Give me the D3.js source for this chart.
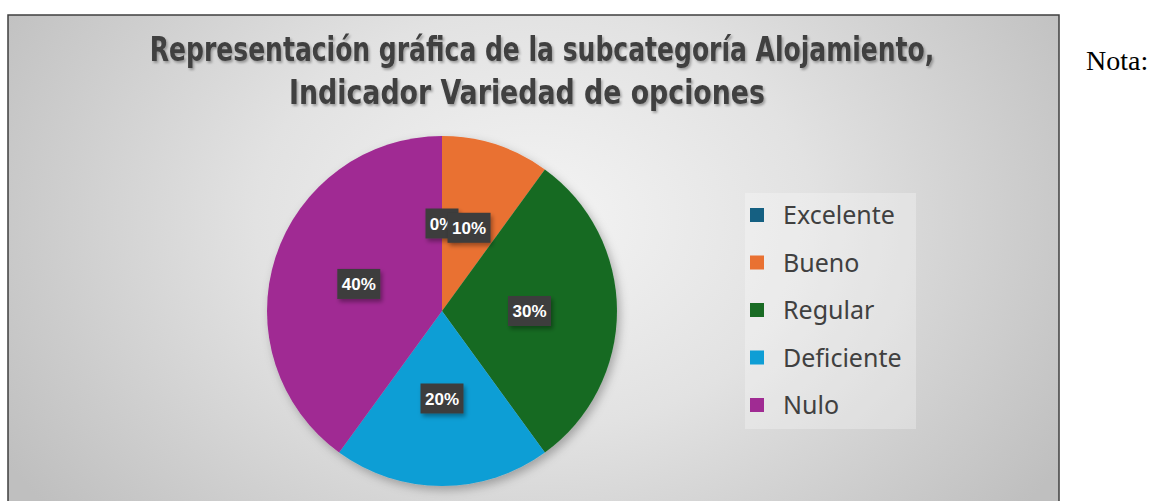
<!DOCTYPE html>
<html>
<head>
<meta charset="utf-8">
<script src="https://cdn.jsdelivr.net/npm/d3@7"></script>
<style>
  html, body { margin: 0; padding: 0; background: #ffffff; }
  svg { display: block; }
</style>
</head>
<body>
<svg id="chart" width="1152" height="501"></svg>
<script>
// Survey answers for "Variedad de opciones" (percent of respondents)
const categories = ["Excelente", "Bueno", "Regular", "Deficiente", "Nulo"];
const values = [0, 10, 30, 20, 40];
const colors = ["#156082", "#E97132", "#196B24", "#0F9ED5", "#A02B93"];
const titleLines = [
  "Representación gráfica de la subcategoría Alojamiento,",
  "Indicador  Variedad de opciones"
];
const noteText = "Nota:";

const svg = d3.select("#chart");

const defs = svg.append("defs");

// Soft gray backdrop, lighter in the middle
const bg = defs.append("radialGradient")
  .attr("id", "bgGrad")
  .attr("gradientUnits", "userSpaceOnUse")
  .attr("cx", 535).attr("cy", 220).attr("r", 620)
  .attr("gradientTransform", "translate(535,220) scale(1,0.75) translate(-535,-220)");
bg.append("stop").attr("offset", "0%").attr("stop-color", "#f4f4f4");
bg.append("stop").attr("offset", "45%").attr("stop-color", "#e2e2e2");
bg.append("stop").attr("offset", "100%").attr("stop-color", "#bfbfbf");

const pieShadow = defs.append("filter").attr("id", "pieShadow")
  .attr("x", "-20%").attr("y", "-20%").attr("width", "140%").attr("height", "140%");
pieShadow.append("feDropShadow")
  .attr("dx", 3).attr("dy", 4).attr("stdDeviation", 5)
  .attr("flood-color", "#000").attr("flood-opacity", 0.28);

const textShadow = defs.append("filter").attr("id", "textShadow")
  .attr("x", "-5%").attr("y", "-20%").attr("width", "110%").attr("height", "150%");
textShadow.append("feDropShadow")
  .attr("dx", 1.5).attr("dy", 2).attr("stdDeviation", 1.2)
  .attr("flood-color", "#000").attr("flood-opacity", 0.3);

const boxShadow = defs.append("filter").attr("id", "boxShadow")
  .attr("x", "-30%").attr("y", "-30%").attr("width", "160%").attr("height", "160%");
boxShadow.append("feDropShadow")
  .attr("dx", 2).attr("dy", 3).attr("stdDeviation", 2)
  .attr("flood-color", "#000").attr("flood-opacity", 0.35);

// Chart area with its frame
const frame = { x: 8, y: 15, w: 1051, h: 500 };
svg.append("rect")
  .attr("x", frame.x).attr("y", frame.y)
  .attr("width", frame.w).attr("height", frame.h)
  .attr("fill", "url(#bgGrad)")
  .attr("stroke", "#3f3f3f").attr("stroke-width", 1.5);

// Title: bold face squeezed horizontally to a narrow look
const titleG = svg.append("g").attr("filter", "url(#textShadow)");
const titleSpec = [
  { x: 542, y: 61, len: 785 },
  { x: 527, y: 104, len: 476 }
];
titleLines.forEach((t, i) => {
  const holder = titleG.append("g");
  const txt = holder.append("text")
    .attr("x", 0).attr("y", 0)
    .attr("text-anchor", "middle")
    .attr("font-family", "'Liberation Sans Narrow', 'DejaVu Sans Condensed', 'Roboto', sans-serif")
    .attr("font-stretch", "condensed")
    .attr("font-weight", "bold")
    .attr("font-size", 34)
    .attr("fill", "#404040")
    .text(t);
  const natural = txt.node().getComputedTextLength();
  const sx = titleSpec[i].len / natural;
  holder.attr("transform", `translate(${titleSpec[i].x},${titleSpec[i].y}) scale(${sx},1)`);
});

// Pie
const cx = 442, cy = 311, radius = 175;
const data = categories.map((c, i) => ({ name: c, value: values[i], color: colors[i] }));

const pie = d3.pie().value(d => d.value).sort(null);
const arcs = pie(data);
const arc = d3.arc().innerRadius(0).outerRadius(radius);
const labelArc = d3.arc().innerRadius(radius * 0.5).outerRadius(radius * 0.5);

const pieG = svg.append("g").attr("transform", `translate(${cx},${cy})`);
pieG.append("g").attr("filter", "url(#pieShadow)")
  .selectAll("path")
  .data(arcs)
  .join("path")
  .attr("d", arc)
  .attr("fill", d => d.data.color);

// Value labels in dark boxes
const fmt = v => `${v}%`;
const labelG = pieG.append("g");
arcs.forEach(a => {
  const [lx, ly] = labelArc.centroid(a);
  const g = labelG.append("g").attr("transform", `translate(${lx},${ly})`);
  const txt = fmt(a.data.value);
  const bw = txt.length * 10 + 13, bh = 30;
  g.append("rect")
    .attr("x", -bw / 2).attr("y", -bh / 2)
    .attr("width", bw).attr("height", bh)
    .attr("fill", "#3e3e3e")
    .attr("filter", "url(#boxShadow)");
  g.append("text")
    .attr("text-anchor", "middle")
    .attr("dy", "0.36em")
    .attr("font-family", "'Liberation Sans', Arial, sans-serif")
    .attr("font-weight", "bold")
    .attr("font-size", 17)
    .attr("fill", "#ffffff")
    .text(txt);
});

// Legend
const legend = svg.append("g");
legend.append("rect")
  .attr("x", 745).attr("y", 193).attr("width", 171).attr("height", 236)
  .attr("fill", "#ffffff").attr("fill-opacity", 0.28);
const ly0 = 215, lstep = 47.5;
const items = legend.selectAll("g.item")
  .data(data)
  .join("g")
  .attr("class", "item")
  .attr("transform", (d, i) => `translate(750,${ly0 + i * lstep})`);
items.append("rect")
  .attr("x", 0).attr("y", -7)
  .attr("width", 14).attr("height", 14)
  .attr("fill", d => d.color);
items.append("text")
  .attr("x", 33).attr("dy", "0.36em")
  .attr("font-family", "'Noto Sans', 'Open Sans', sans-serif")
  .attr("font-size", 25)
  .attr("fill", "#404040")
  .text(d => d.name);

// Note outside the chart frame
svg.append("text")
  .attr("x", 1086).attr("y", 70)
  .attr("font-family", "'Liberation Serif', 'Times New Roman', serif")
  .attr("font-size", 28)
  .attr("fill", "#000")
  .text(noteText);
</script>
</body>
</html>
